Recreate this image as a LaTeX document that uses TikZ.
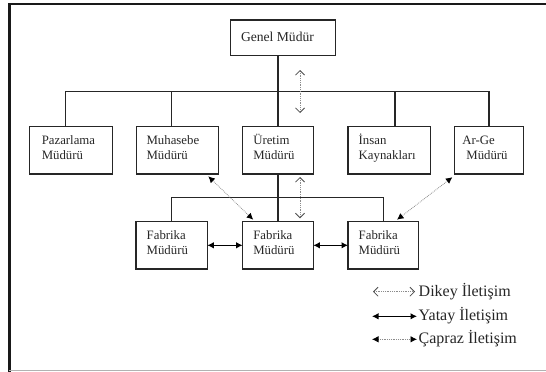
\documentclass[tikz,border=0pt]{standalone}
\usepackage{fontspec}
\setmainfont{Liberation Serif}
\usetikzlibrary{arrows.meta,calc}

\begin{document}
\begin{tikzpicture}[x=1pt,y=-1pt,
  orgbox/.style args={#1x#2}{draw=black!85, line width=1.1pt, inner sep=0pt, outer sep=0pt,
    minimum width=#1pt, minimum height=#2pt, anchor=north west},
  boxtext/.style={inner sep=0pt, anchor=north west, align=left, text=black!85,
    font=\fontsize{12.8}{15}\selectfont},
  conn/.style={draw=black!85, line width=1.1pt},
  dikey/.style={draw=black!45, line width=0.8pt, densely dotted,
    {Straight Barb[length=4.5pt,width=9pt,color=black!70]}-{Straight Barb[length=4.5pt,width=9pt,color=black!70]}},
  yatay/.style={draw=black, line width=1.1pt,
    {Latex[length=6.5pt,width=6.5pt]}-{Latex[length=6.5pt,width=6.5pt]}},
  capraz/.style={draw=black!45, line width=0.8pt, densely dotted,
    {Latex[length=6.5pt,width=6.5pt,color=black]}-{Latex[length=6.5pt,width=6.5pt,color=black]}},
  legtext/.style={inner sep=0pt, anchor=base west, text=black!85, font=\fontsize{16}{18}\selectfont}
]
\useasboundingbox (0,0) rectangle (546,372);

% page frame
\draw[black!90, line width=2pt] (8,3.8) -- (546,3.8);
\draw[black!90, line width=2.6pt] (9.3,3) -- (9.3,372);
\draw[black!30, line width=1pt] (9.3,370.6) -- (546,370.6);

% boxes
\node[orgbox=105.1x35.7] (gm) at (230.8,20) {};
\node[orgbox=83.4x47.3] (paz) at (29.3,126.7) {};
\node[orgbox=82.2x47.3] (muh) at (136.4,126.7) {};
\node[orgbox=70.7x47.3] (ure) at (242.6,126.7) {};
\node[orgbox=82.6x47.3] (ins) at (348,126.7) {};
\node[orgbox=69.6x47.3] (arge) at (454.2,126.7) {};
\node[orgbox=71.3x47.3] (fa) at (136,221.7) {};
\node[orgbox=70.7x47.3] (fb) at (242.6,221.7) {};
\node[orgbox=70.7x47.3] (fc) at (348,221.7) {};

% box texts
\node[inner sep=0pt, anchor=base west, text=black!85, font=\fontsize{13.6}{15}\selectfont]
  (gmT) at ($(gm.north west)+(10,21.5)$) {Genel Müdür};
\node[boxtext] (pazT) at ($(paz.north west)+(12.3,6.3)$) {\rule{0pt}{11pt}Pazarlama\\Müdürü};
\node[boxtext] (muhT) at ($(muh.north west)+(10,6.3)$) {\rule{0pt}{11pt}Muhasebe\\Müdürü};
\node[boxtext] (ureT) at ($(ure.north west)+(10.5,6.3)$) {\rule{0pt}{11pt}Üretim\\Müdürü};
\node[boxtext] (insT) at ($(ins.north west)+(10.5,6.3)$) {\rule{0pt}{11pt}İnsan\\Kaynakları};
\node[boxtext] (argeT) at ($(arge.north west)+(8,6.3)$) {\rule{0pt}{11pt}Ar-Ge\\\hspace*{4pt}Müdürü};
\node[boxtext] (faT) at ($(fa.north west)+(10.5,6.3)$) {\rule{0pt}{11pt}Fabrika\\Müdürü};
\node[boxtext] (fbT) at ($(fb.north west)+(10.5,6.3)$) {\rule{0pt}{11pt}Fabrika\\Müdürü};
\node[boxtext] (fcT) at ($(fc.north west)+(10.5,6.3)$) {\rule{0pt}{11pt}Fabrika\\Müdürü};

% hierarchy lines
\coordinate (bus) at (0,91.7);
\coordinate (lbus) at (0,197.2);
\draw[conn] (ure.north |- gm.south) -- (ure.north);
\draw[conn] ($(paz.north)+(-5.6,0)$) |- (bus -| arge.north) -- (arge.north);
\draw[conn] ($(muh.north)+(-6.3,0)$) -- ++(0,-35);
\draw[conn] ($(ins.north)+(5.7,0)$) -- ++(0,-35);
\draw[conn] (ure.south) -- (fb.north);
\draw[conn] (fa.north) |- (fc.north |- lbus) -- (fc.north);

% vertical communication
\coordinate (v1a) at ($(ure.north east)+(-13.3,-56.7)$);
\coordinate (v1b) at ($(ure.north east)+(-13.3,-13.7)$);
\coordinate (v2a) at ($(ure.south east)+(-13.3,3)$);
\coordinate (v2b) at ($(fb.north east)+(-13.3,-3.4)$);
\draw[dikey] (v1a) -- (v1b);
\draw[dikey] (v2a) -- (v2b);

% horizontal communication
\draw[yatay] (fa.east |- 0,245.3) -- (fb.west |- 0,245.3);
\draw[yatay] (fb.east |- 0,245.3) -- (fc.west |- 0,245.3);

% diagonal communication
\coordinate (c1a) at ($(muh.south east)+(-10.3,2.3)$);
\coordinate (c1b) at ($(fb.north west)+(10.6,-2)$);
\coordinate (c2a) at ($(arge.south west)+(-1.8,3.2)$);
\coordinate (c2b) at ($(fc.north east)+(-21.7,-2)$);
\draw[capraz] (c1a) -- (c1b);
\draw[capraz] (c2a) -- (c2b);

% legend
\node[legtext] (lgD) at (418.5,296) {Dikey İletişim};
\node[legtext] (lgY) at (418.5,320.5) {Yatay İletişim};
\node[legtext] (lgC) at (418.5,343.5) {Çapraz İletişim};
\coordinate (lgDa) at (373,291.7);
\coordinate (lgYa) at (372,316.3);
\coordinate (lgCa) at (372,339.3);
\draw[dikey] (lgDa) -- (lgDa -| 415,0);
\draw[yatay] (lgYa) -- (lgYa -| 417,0);
\draw[capraz] (lgCa) -- (lgCa -| 417,0);
\end{tikzpicture}
\end{document}
